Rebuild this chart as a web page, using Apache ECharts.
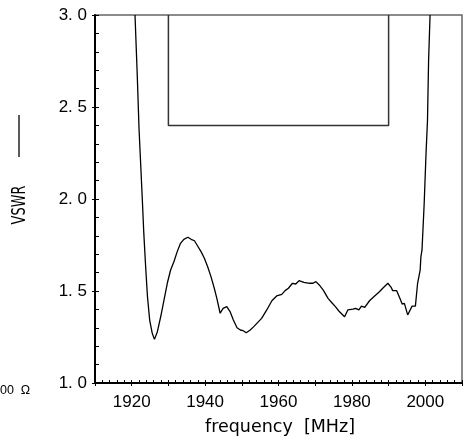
<!DOCTYPE html>
<html>
<head>
<meta charset="utf-8">
<script src="https://cdn.jsdelivr.net/npm/echarts@6/dist/echarts.min.js"></script>
<style>
html,body{margin:0;padding:0;background:#fff;}
#c{width:465px;height:441px;}
</style>
</head>
<body>
<div id="c"></div>
<script>
// measured VSWR curve
const freq = [1920.9,1921.5,1922.0,1922.9,1923.3,1923.8,1924.3,1924.9,1925.6,1926.2,1927.0,1927.9,1928.8,1929.7,1930.6,1931.5,1932.4,1933.3,1934.2,1935.3,1936.2,1937.1,1937.8,1938.9,1939.8,1940.7,1941.6,1942.5,1943.2,1944.1,1944.9,1945.9,1946.8,1947.7,1948.7,1949.6,1950.3,1951.2,1952.3,1953.2,1954.1,1955.4,1956.8,1958.2,1959.5,1960.9,1961.8,1962.7,1963.8,1964.7,1965.6,1966.9,1968.5,1969.4,1970.2,1971.1,1972.2,1973.5,1974.6,1975.5,1976.5,1978.0,1978.9,1980.3,1981.0,1981.9,1982.6,1983.5,1984.8,1986.2,1987.5,1988.4,1989.8,1990.7,1991.1,1992.2,1992.9,1993.7,1994.3,1995.2,1995.7,1996.4,1997.3,1997.9,1998.6,1998.8,1999.1,1999.7,2000.2,2000.6,2000.9,2001.3];
const vswr = [3.0,2.68,2.38,1.995,1.813,1.632,1.469,1.342,1.270,1.237,1.279,1.360,1.451,1.542,1.614,1.659,1.714,1.759,1.781,1.792,1.781,1.773,1.750,1.714,1.678,1.632,1.578,1.515,1.460,1.379,1.406,1.415,1.388,1.342,1.300,1.288,1.285,1.273,1.288,1.305,1.324,1.351,1.397,1.447,1.473,1.482,1.502,1.515,1.542,1.538,1.556,1.547,1.542,1.542,1.551,1.533,1.505,1.460,1.435,1.415,1.390,1.360,1.397,1.401,1.406,1.397,1.418,1.411,1.447,1.473,1.496,1.515,1.542,1.520,1.502,1.502,1.469,1.429,1.433,1.370,1.370,1.418,1.418,1.542,1.614,1.686,1.723,1.977,2.248,2.429,2.755,3.0];
// specification mask
const maskFreq = [1930, 1930, 1990, 1990];
const maskVswr = [3.0, 2.4, 2.4, 3.0];
// tick labels
const xTickLabels = ['1920','1940','1960','1980','2000'];
const yTickLabels = ['1. 0','1. 5','2. 0','2. 5','3. 0'];
const yTickValues = [1.0,1.5,2.0,2.5,3.0];

const curve = freq.map((f,i)=>[f, vswr[i]]);
const mask = maskFreq.map((f,i)=>[f, maskVswr[i]]);

const chart = echarts.init(document.getElementById('c'), null, {renderer:'canvas'});
const labelFont = {fontFamily:'Liberation Sans', fontSize:17, color:'#000'};
chart.setOption({
  animation:false,
  backgroundColor:'#fff',
  grid:{left:95, right:2, top:15, bottom:58, show:true, borderColor:'#666', borderWidth:1.5},
  xAxis:[
    {type:'value', min:1910, max:2010, interval:10, position:'bottom',
     axisLine:{show:true, lineStyle:{color:'#000', width:2}},
     axisTick:{show:true, inside:true, length:3, lineStyle:{color:'#000', width:1}},
     minorTick:{show:true, splitNumber:5, length:3, lineStyle:{color:'#000', width:1}},
     splitLine:{show:false},
     axisLabel:Object.assign({margin:11, formatter:v=>{const s=String(Math.round(v));return xTickLabels.indexOf(s)>=0?s:'';}}, labelFont)},
    {type:'value', min:1910, max:2010, interval:10, position:'bottom',
     axisLine:{show:false},
     axisTick:{show:true, inside:false, length:3, lineStyle:{color:'#000', width:1}},
     splitLine:{show:false}, axisLabel:{show:false}}
  ],
  yAxis:[
    {type:'value', min:1, max:3, interval:0.5, position:'left',
     axisLine:{show:true, lineStyle:{color:'#000', width:2}},
     axisTick:{show:true, inside:false, length:3, lineStyle:{color:'#000', width:1}},
     splitLine:{show:false},
     axisLabel:Object.assign({margin:8, formatter:v=>{const i=yTickValues.findIndex(t=>Math.abs(t-v)<1e-6);return i>=0?yTickLabels[i]:'';}}, labelFont)},
    {type:'value', min:1, max:3, interval:0.1, position:'left',
     axisLine:{show:false},
     axisTick:{show:true, inside:true, length:4, lineStyle:{color:'#000', width:1}},
     splitLine:{show:false}, axisLabel:{show:false}}
  ],
  series:[
    {type:'line', data:mask, xAxisIndex:0, yAxisIndex:0, showSymbol:false, symbol:'none',
     lineStyle:{color:'#333', width:1.5}, clip:true, z:2},
    {type:'line', data:curve, xAxisIndex:0, yAxisIndex:0, showSymbol:false, symbol:'none',
     lineStyle:{color:'#000', width:1.3}, clip:true, z:3}
  ],
  graphic:[
    {type:'text', x:280, y:427, style:{text:'frequency  [MHz]', font:'17.5px "DejaVu Sans"', fill:'#000', textAlign:'center', textVerticalAlign:'middle'}},
    {type:'text', x:20, y:205, rotation:Math.PI/2, scaleX:0.68, style:{text:'VSWR', font:'19px "DejaVu Sans"', fill:'#000', textAlign:'center', textVerticalAlign:'middle'}},
    {type:'line', shape:{x1:19, y1:115, x2:19, y2:157}, style:{stroke:'#000', lineWidth:1.3}},
    {type:'text', x:0, y:391, style:{text:'00  Ω', font:'12.5px "Liberation Sans"', fill:'#000', textAlign:'left', textVerticalAlign:'middle'}}
  ]
});
</script>
</body>
</html>
